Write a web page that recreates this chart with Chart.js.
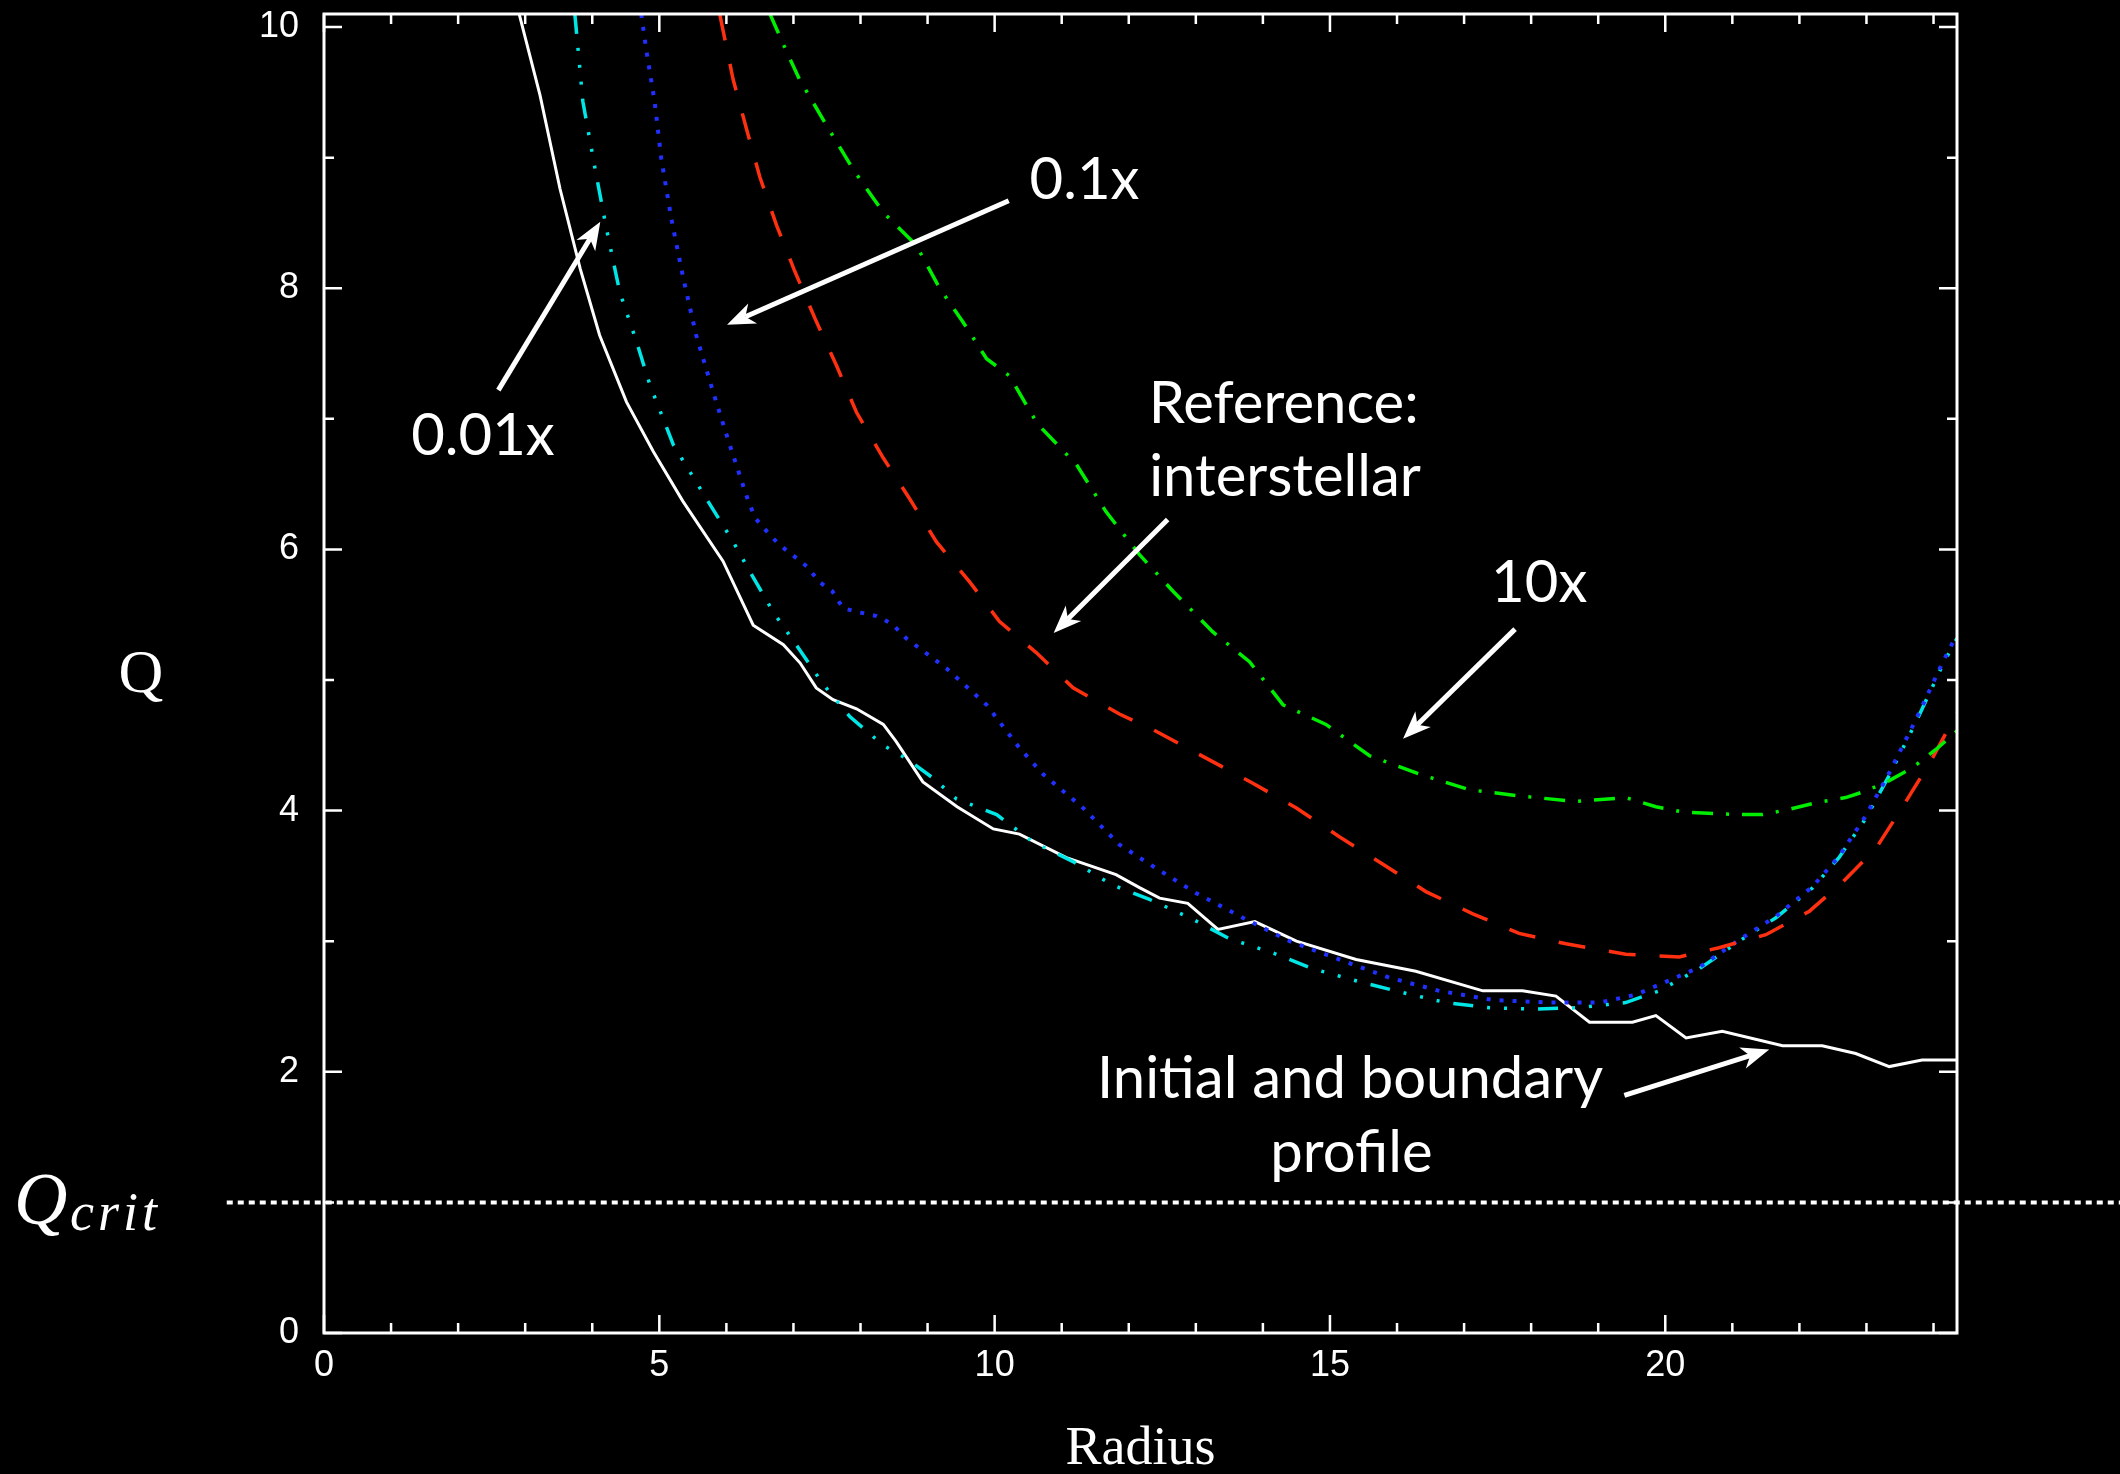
<!DOCTYPE html>
<html>
<head>
<meta charset="utf-8">
<title>Q profiles</title>
<script src="https://cdn.jsdelivr.net/npm/chart.js@4.4.1/dist/chart.umd.min.js"></script>
<style>
  html, body { margin: 0; padding: 0; background: #000; }
  #wrap { width: 2120px; height: 1474px; }
</style>
</head>
<body>
<div id="wrap"><canvas id="qChart" width="2120" height="1474"></canvas></div>
<script>
// axis ticks
const radiusTicks = [0, 5, 10, 15, 20];
const qTicks = [0, 2, 4, 6, 8, 10];
const qCrit = 1;

// initial and boundary profile (white, solid)
const initialR = [2.91, 3.22, 3.52, 3.82, 4.11, 4.51, 4.91, 5.35, 5.95, 6.40, 6.85, 7.10, 7.34, 7.59, 7.94, 8.34, 8.53, 8.93, 9.44, 9.98, 10.37, 11.07, 11.81, 12.16, 12.46, 12.88, 13.33, 13.88, 14.50, 15.39, 16.28, 17.28, 17.87, 18.37, 18.87, 19.51, 19.86, 20.31, 20.85, 21.75, 22.34, 22.84, 23.34, 23.83, 24.35];
const initialQ = [10.1, 9.48, 8.76, 8.15, 7.64, 7.13, 6.75, 6.37, 5.91, 5.42, 5.27, 5.13, 4.94, 4.85, 4.78, 4.66, 4.53, 4.22, 4.03, 3.86, 3.82, 3.64, 3.51, 3.41, 3.33, 3.29, 3.09, 3.15, 3.00, 2.86, 2.77, 2.62, 2.62, 2.58, 2.38, 2.38, 2.43, 2.26, 2.31, 2.20, 2.20, 2.14, 2.04, 2.09, 2.09];

// 0.01x (cyan, dash-dot-dot-dot)
const lowR = [3.74, 3.86, 4.04, 4.21, 4.41, 4.66, 4.86, 5.21, 5.70, 6.10, 6.35, 6.70, 7.04, 7.44, 7.84, 8.34, 8.68, 9.08, 9.43, 10.03, 10.57, 11.17, 11.76, 12.31, 12.91, 13.50, 14.15, 14.74, 15.44, 16.14, 16.73, 17.38, 18.02, 18.67, 19.41, 19.91, 20.51, 21.10, 21.65, 22.20, 22.59, 22.99, 23.34, 23.74, 24.14, 24.35];
const lowQ = [10.1, 9.43, 8.92, 8.46, 7.97, 7.59, 7.26, 6.80, 6.39, 6.06, 5.83, 5.52, 5.27, 4.97, 4.72, 4.50, 4.40, 4.25, 4.09, 3.97, 3.76, 3.61, 3.43, 3.32, 3.18, 3.02, 2.91, 2.79, 2.69, 2.60, 2.53, 2.49, 2.48, 2.49, 2.53, 2.62, 2.79, 3.00, 3.18, 3.41, 3.64, 3.94, 4.27, 4.68, 5.12, 5.32];

// 0.1x (blue, dotted)
const tenthR = [4.73, 4.81, 4.93, 5.03, 5.18, 5.36, 5.55, 5.80, 6.05, 6.32, 6.43, 6.60, 6.78, 6.98, 7.20, 7.39, 7.58, 7.74, 7.97, 8.24, 8.47, 8.68, 9.28, 9.88, 10.37, 10.72, 11.32, 11.86, 12.31, 13.00, 13.70, 14.40, 15.14, 15.89, 16.63, 17.43, 18.27, 19.02, 19.56, 20.51, 21.10, 21.65, 22.20, 22.59, 22.99, 23.34, 23.74, 24.14, 24.35];
const tenthQ = [10.1, 9.81, 9.43, 8.99, 8.53, 8.07, 7.64, 7.21, 6.80, 6.38, 6.24, 6.14, 6.04, 5.96, 5.87, 5.75, 5.68, 5.55, 5.52, 5.49, 5.43, 5.32, 5.09, 4.81, 4.48, 4.28, 4.02, 3.74, 3.59, 3.37, 3.18, 3.00, 2.86, 2.72, 2.62, 2.55, 2.53, 2.53, 2.59, 2.80, 3.01, 3.19, 3.42, 3.65, 3.96, 4.29, 4.70, 5.14, 5.35];

// reference: interstellar (red, dashed)
const refR = [5.90, 6.10, 6.30, 6.50, 6.75, 7.02, 7.32, 7.64, 7.94, 8.34, 8.73, 9.13, 9.63, 10.07, 10.62, 11.17, 11.86, 12.36, 13.16, 13.85, 14.50, 15.14, 15.79, 16.43, 17.13, 17.82, 18.52, 19.41, 20.21, 20.80, 21.50, 22.15, 22.64, 23.14, 23.54, 23.96, 24.35];
const refQ = [10.1, 9.60, 9.22, 8.85, 8.48, 8.13, 7.77, 7.41, 7.05, 6.70, 6.39, 6.06, 5.75, 5.45, 5.21, 4.94, 4.74, 4.62, 4.40, 4.21, 4.02, 3.80, 3.59, 3.38, 3.21, 3.06, 2.98, 2.90, 2.88, 2.95, 3.05, 3.23, 3.45, 3.71, 4.03, 4.38, 4.75];

// 10x (green, dash-dot)
const highR = [6.65, 6.90, 7.09, 7.49, 7.89, 8.34, 8.83, 9.18, 9.53, 9.88, 10.22, 10.64, 11.22, 11.66, 12.16, 12.66, 13.25, 13.80, 14.30, 14.94, 15.59, 16.33, 17.08, 17.87, 18.67, 19.41, 19.86, 20.26, 21.05, 21.45, 21.85, 22.24, 22.69, 22.99, 23.34, 23.69, 24.04, 24.35];
const highQ = [10.1, 9.81, 9.60, 9.25, 8.91, 8.58, 8.33, 8.00, 7.74, 7.46, 7.33, 6.96, 6.65, 6.29, 5.96, 5.68, 5.37, 5.14, 4.81, 4.66, 4.42, 4.28, 4.16, 4.11, 4.07, 4.10, 4.03, 3.99, 3.97, 3.97, 4.01, 4.06, 4.10, 4.15, 4.23, 4.33, 4.47, 4.61];

function points(rs, qs) {
    return rs.map((r, i) => ({ x: r, y: qs[i] }));
}

// labels and arrows, placed in data units
const notes = [
    { text: '0.01x', r: 2.37, q: 6.72 },
    { text: '0.1x', r: 11.34, q: 8.68 },
    { text: 'Reference:', r: 14.31, q: 6.97 },
    { text: 'interstellar', r: 14.33, q: 6.41 },
    { text: '10x', r: 18.12, q: 5.60 },
    { text: 'Initial and boundary', r: 15.30, q: 1.80 },
    { text: 'profile', r: 15.32, q: 1.23 }
];
const arrows = [
    { from: [2.60, 7.22], to: [4.12, 8.51] },
    { from: [10.21, 8.67], to: [6.01, 7.72] },
    { from: [12.58, 6.23], to: [10.88, 5.36] },
    { from: [17.76, 5.39], to: [16.09, 4.55] },
    { from: [19.39, 1.82], to: [21.55, 2.17] }
];

// box with inward ticks on all four sides
const framePlugin = {
    id: 'frame',
    afterDatasetsDraw(chart) {
        const { ctx, chartArea: a, scales: { x, y } } = chart;
        ctx.save();
        ctx.strokeStyle = '#fff';
        ctx.lineWidth = 3;
        ctx.strokeRect(a.left, a.top, a.right - a.left, a.bottom - a.top);
        ctx.lineWidth = 2.5;
        ctx.beginPath();
        for (let v = 0; v <= x.max; v++) {
            const px = x.getPixelForValue(v);
            const len = radiusTicks.includes(v) ? 18 : 10;
            ctx.moveTo(px, a.bottom); ctx.lineTo(px, a.bottom - len);
            ctx.moveTo(px, a.top); ctx.lineTo(px, a.top + len);
        }
        for (let v = 0; v <= y.max; v++) {
            const py = y.getPixelForValue(v);
            const len = qTicks.includes(v) ? 18 : 10;
            ctx.moveTo(a.left, py); ctx.lineTo(a.left + len, py);
            ctx.moveTo(a.right, py); ctx.lineTo(a.right - len, py);
        }
        ctx.stroke();
        ctx.restore();
    }
};

function drawArrow(ctx, x1, y1, x2, y2) {
    const ang = Math.atan2(y2 - y1, x2 - x1);
    const headLen = 28, halfW = 11, notch = 8;
    const cos = Math.cos(ang), sin = Math.sin(ang);
    ctx.beginPath();
    ctx.moveTo(x1, y1);
    ctx.lineTo(x2 - cos * (headLen - notch), y2 - sin * (headLen - notch));
    ctx.stroke();
    const bx = x2 - cos * headLen, by = y2 - sin * headLen;
    ctx.beginPath();
    ctx.moveTo(x2, y2);
    ctx.lineTo(bx - sin * halfW, by + cos * halfW);
    ctx.lineTo(x2 - cos * (headLen - notch), y2 - sin * (headLen - notch));
    ctx.lineTo(bx + sin * halfW, by - cos * halfW);
    ctx.closePath();
    ctx.fill();
}

const notesPlugin = {
    id: 'notes',
    afterDraw(chart) {
        const { ctx, chartArea: a, scales: { x, y } } = chart;
        ctx.save();
        ctx.fillStyle = '#fff';
        ctx.strokeStyle = '#fff';

        // Q_crit dotted line
        const yc = y.getPixelForValue(qCrit);
        ctx.lineWidth = 4;
        ctx.setLineDash([6, 5]);
        ctx.beginPath();
        ctx.moveTo(x.getPixelForValue(-1.45), yc);
        ctx.lineTo(chart.width, yc);
        ctx.stroke();
        ctx.setLineDash([]);

        ctx.textAlign = 'left';
        ctx.textBaseline = 'alphabetic';
        ctx.font = 'italic 74px "Liberation Serif"';
        ctx.fillText('Q', 14, yc + 22);
        ctx.font = 'italic 54px "Liberation Serif"';
        ctx.letterSpacing = '4px';
        ctx.fillText('crit', 70, yc + 28);
        ctx.letterSpacing = '0px';

        // y axis title
        ctx.textAlign = 'center';
        ctx.font = '62px "Liberation Serif"';
        ctx.fillText('Q', 141, (a.top + a.bottom) / 2 + 18);

        // annotations
        ctx.font = '58px Lato';
        notes.forEach(n => {
            ctx.fillText(n.text, x.getPixelForValue(n.r), y.getPixelForValue(n.q));
        });
        ctx.lineWidth = 5;
        arrows.forEach(ar => {
            drawArrow(ctx,
                x.getPixelForValue(ar.from[0]), y.getPixelForValue(ar.from[1]),
                x.getPixelForValue(ar.to[0]), y.getPixelForValue(ar.to[1]));
        });
        ctx.restore();
    }
};

document.addEventListener('DOMContentLoaded', () => {
    const ctx = document.getElementById('qChart').getContext('2d');
    const tickFont = { family: '"Liberation Sans"', size: 36 };

    new Chart(ctx, {
        type: 'line',
        data: {
            datasets: [
                {
                    label: 'Initial and boundary profile',
                    data: points(initialR, initialQ),
                    borderColor: '#ffffff',
                    borderWidth: 3,
                    order: 5
                },
                {
                    label: '0.01x',
                    data: points(lowR, lowQ),
                    borderColor: '#00e6e6',
                    borderWidth: 3.5,
                    borderDash: [20, 14, 3, 14, 3, 14, 3, 14],
                    order: 4
                },
                {
                    label: '0.1x',
                    data: points(tenthR, tenthQ),
                    borderColor: '#2030ff',
                    borderWidth: 4,
                    borderDash: [4, 9],
                    order: 3
                },
                {
                    label: 'Reference: interstellar',
                    data: points(refR, refQ),
                    borderColor: '#ff3010',
                    borderWidth: 3.5,
                    borderDash: [27, 24],
                    order: 2
                },
                {
                    label: '10x',
                    data: points(highR, highQ),
                    borderColor: '#00ee00',
                    borderWidth: 3.5,
                    borderDash: [21, 13, 3, 13],
                    order: 1
                }
            ]
        },
        options: {
            responsive: false,
            animation: false,
            events: [],
            layout: { padding: { left: 0, right: 163, top: 14, bottom: 0 } },
            elements: { point: { radius: 0 }, line: { tension: 0 } },
            plugins: {
                legend: { display: false },
                tooltip: { enabled: false }
            },
            scales: {
                x: {
                    type: 'linear',
                    min: 0,
                    max: 24.35,
                    grid: { display: false, drawTicks: false },
                    border: { display: false },
                    afterBuildTicks: axis => { axis.ticks = radiusTicks.map(v => ({ value: v })); },
                    afterFit: scale => {
                        scale.height = 141;
                        scale.paddingLeft = 0;
                        scale.paddingRight = 0;
                    },
                    ticks: { color: '#fff', font: tickFont, padding: 11, maxRotation: 0 },
                    title: {
                        display: true,
                        text: 'Radius',
                        color: '#fff',
                        font: { family: '"Liberation Serif"', size: 54, lineHeight: 0.9 },
                        padding: 0
                    }
                },
                y: {
                    min: 0,
                    max: 10.1,
                    grid: { display: false, drawTicks: false },
                    border: { display: false },
                    afterBuildTicks: axis => { axis.ticks = qTicks.map(v => ({ value: v })); },
                    afterFit: scale => {
                        scale.width = 324;
                        scale.paddingTop = 0;
                        scale.paddingBottom = 0;
                    },
                    ticks: { color: '#fff', font: tickFont, padding: 25 }
                }
            }
        },
        plugins: [framePlugin, notesPlugin]
    });
});
</script>
</body>
</html>
